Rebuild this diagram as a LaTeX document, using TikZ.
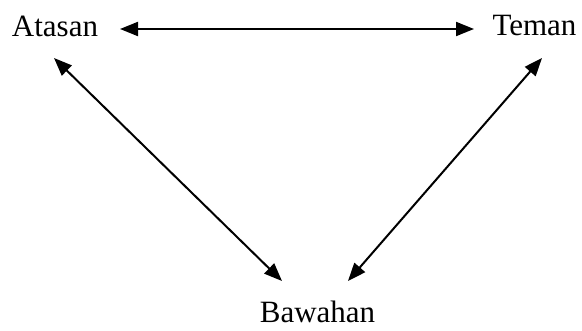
\documentclass[tikz,border=0pt]{standalone}
\usepackage{fontspec}
\setmainfont{Liberation Serif}
\usetikzlibrary{arrows.meta}
\begin{document}
\begin{tikzpicture}[x=1pt,y=-1pt,
  lbl/.style={anchor=base,inner sep=0pt,font=\fontsize{31}{36}\selectfont},
  conn/.style={line width=2pt,{Triangle[length=18pt,width=14pt]}-{Triangle[length=18pt,width=14pt]}}]
\useasboundingbox (0,0) rectangle (582,331);
\node[lbl] (atasan) at (55,37) {Atasan};
\node[lbl] (teman) at (534.5,36) {Teman};
\node[lbl] (bawahan) at (317.5,323) {Bawahan};
\coordinate (at1) at (120,29);
\coordinate (te1) at (474,29);
\coordinate (at2) at (54,58);
\coordinate (ba1) at (282,281);
\coordinate (te2) at (542,58);
\coordinate (ba2) at (348,281);
\draw[conn] (at1) -- (te1);
\draw[conn] (at2) -- (ba1);
\draw[conn] (te2) -- (ba2);
\end{tikzpicture}
\end{document}
